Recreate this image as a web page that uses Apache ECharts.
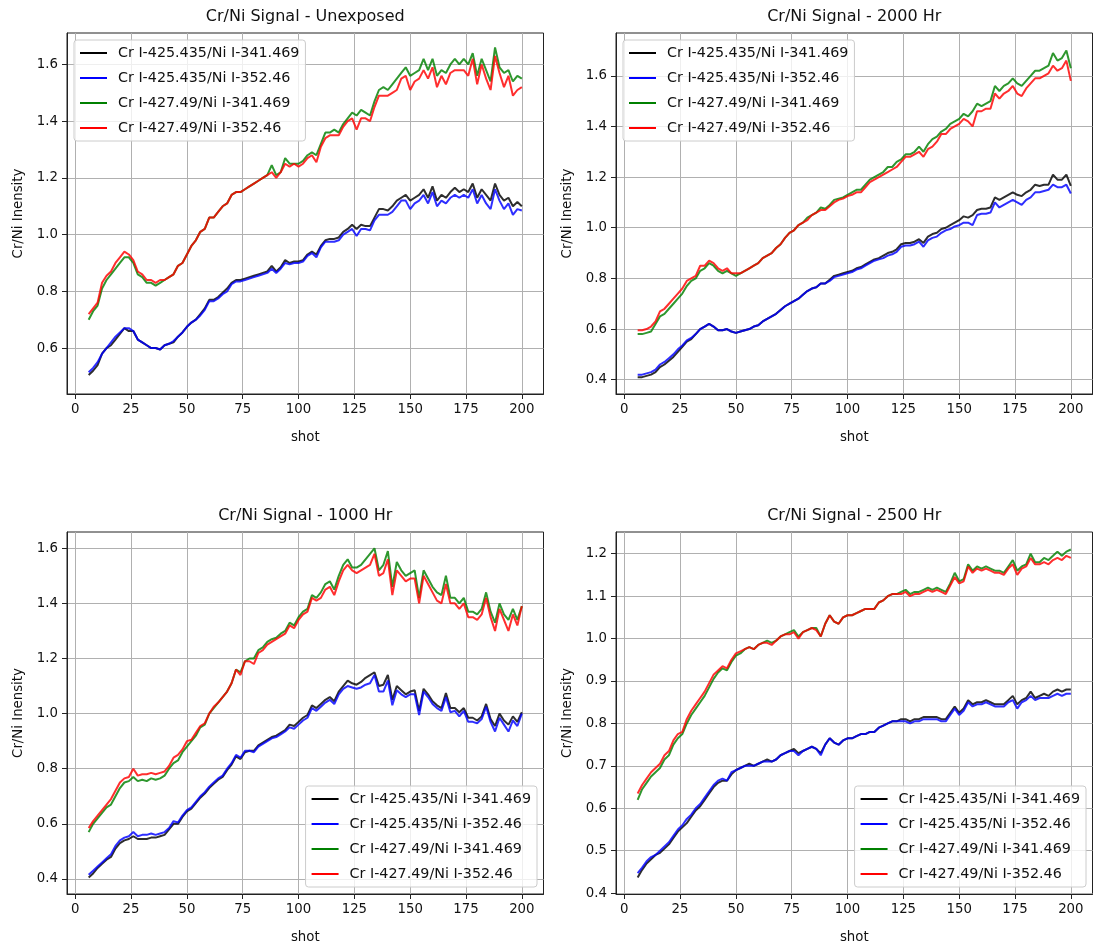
<!DOCTYPE html>
<html>
<head>
<meta charset="utf-8">
<title>Cr/Ni Signal</title>
<script src="https://cdn.jsdelivr.net/npm/echarts@6/dist/echarts.min.js"></script>
<style>
  html, body { margin: 0; padding: 0; background: #fff; }
  #chart { width: 1094px; height: 949px; }
</style>
</head>
<body>
<div id="chart"></div>
<script>
// shot numbers (every second shot, 6..200)
var shots = [
  6, 8, 10, 12, 14, 16, 18, 20, 22, 24,
  26, 28, 30, 32, 34, 36, 38, 40, 42, 44,
  46, 48, 50, 52, 54, 56, 58, 60, 62, 64,
  66, 68, 70, 72, 74, 76, 78, 80, 82, 84,
  86, 88, 90, 92, 94, 96, 98, 100, 102, 104,
  106, 108, 110, 112, 114, 116, 118, 120, 122, 124,
  126, 128, 130, 132, 134, 136, 138, 140, 142, 144,
  146, 148, 150, 152, 154, 156, 158, 160, 162, 164,
  166, 168, 170, 172, 174, 176, 178, 180, 182, 184,
  186, 188, 190, 192, 194, 196, 198, 200
];

var seriesNames = [
  'Cr I-425.435/Ni I-341.469',
  'Cr I-425.435/Ni I-352.46',
  'Cr I-427.49/Ni I-341.469',
  'Cr I-427.49/Ni I-352.46'
];

var xTicks = [0, 25, 50, 75, 100, 125, 150, 175, 200];

// ---- Unexposed ----
var unexposedK = [
  .505, .52, .54, .58, .60, .61, .63, .65, .67, .66,
  .66, .63, .62, .61, .60, .60, .595, .61, .615, .62,
  .64, .655, .675, .69, .70, .72, .74, .77, .77, .78,
  .795, .81, .83, .84, .84, .845, .85, .855, .86, .865,
  .87, .89, .87, .885, .91, .90, .905, .905, .91, .93,
  .94, .93, .96, .98, .985, .985, .99, 1.01, 1.02, 1.035,
  1.02, 1.035, 1.03, 1.03, 1.06, 1.09, 1.09, 1.085, 1.10, 1.12,
  1.13, 1.14, 1.12, 1.13, 1.14, 1.16, 1.13, 1.17, 1.12, 1.14,
  1.13, 1.15, 1.165, 1.15, 1.16, 1.15, 1.18, 1.13, 1.16, 1.14,
  1.12, 1.18, 1.14, 1.12, 1.13, 1.10, 1.115, 1.10
];
var unexposedB = [
  .515, .53, .55, .58, .60, .62, .64, .655, .67, .67,
  .66, .63, .62, .61, .60, .60, .595, .61, .615, .625,
  .64, .655, .675, .69, .70, .715, .735, .765, .765, .775,
  .79, .80, .825, .835, .835, .84, .845, .85, .855, .86,
  .865, .88, .865, .88, .90, .895, .90, .90, .905, .925,
  .935, .92, .955, .975, .975, .975, .98, 1.00, 1.01, 1.02,
  .995, 1.02, 1.02, 1.015, 1.05, 1.07, 1.07, 1.07, 1.08, 1.10,
  1.12, 1.12, 1.09, 1.11, 1.12, 1.14, 1.11, 1.15, 1.10, 1.12,
  1.11, 1.13, 1.14, 1.13, 1.14, 1.13, 1.16, 1.11, 1.14, 1.11,
  1.09, 1.16, 1.12, 1.09, 1.11, 1.07, 1.09, 1.085
];
var unexposedG = [
  .70, .73, .75, .81, .84, .86, .88, .90, .92, .92,
  .90, .86, .85, .83, .83, .82, .83, .84, .85, .86,
  .89, .90, .93, .96, .98, 1.01, 1.02, 1.06, 1.06, 1.08,
  1.10, 1.11, 1.14, 1.15, 1.15, 1.16, 1.17, 1.18, 1.19, 1.20,
  1.21, 1.245, 1.21, 1.22, 1.27, 1.25, 1.25, 1.25, 1.26, 1.28,
  1.29, 1.28, 1.32, 1.36, 1.36, 1.37, 1.36, 1.39, 1.41, 1.43,
  1.42, 1.44, 1.43, 1.42, 1.47, 1.51, 1.52, 1.51, 1.53, 1.55,
  1.57, 1.59, 1.56, 1.57, 1.58, 1.62, 1.58, 1.62, 1.56, 1.58,
  1.57, 1.60, 1.62, 1.60, 1.62, 1.60, 1.64, 1.56, 1.62, 1.58,
  1.54, 1.66, 1.59, 1.57, 1.58, 1.54, 1.56, 1.55
];
var unexposedR = [
  .72, .74, .76, .83, .855, .87, .90, .92, .94, .93,
  .91, .87, .86, .84, .84, .83, .84, .84, .85, .86,
  .89, .90, .93, .96, .98, 1.01, 1.02, 1.06, 1.06, 1.08,
  1.10, 1.11, 1.14, 1.15, 1.15, 1.16, 1.17, 1.18, 1.19, 1.20,
  1.21, 1.22, 1.20, 1.22, 1.25, 1.24, 1.25, 1.24, 1.25, 1.27,
  1.28, 1.255, 1.31, 1.34, 1.35, 1.35, 1.35, 1.38, 1.40, 1.41,
  1.37, 1.41, 1.41, 1.40, 1.45, 1.49, 1.49, 1.49, 1.50, 1.51,
  1.55, 1.56, 1.51, 1.54, 1.55, 1.58, 1.55, 1.59, 1.52, 1.56,
  1.53, 1.57, 1.58, 1.58, 1.58, 1.56, 1.62, 1.53, 1.60, 1.55,
  1.51, 1.63, 1.57, 1.52, 1.56, 1.49, 1.51, 1.52
];
var unexposedYTicks = [0.6, 0.8, 1.0, 1.2, 1.4, 1.6];

// ---- 2000 Hr ----
var hr2000K = [
  .41, .41, .415, .42, .43, .45, .46, .475, .49, .51,
  .53, .55, .56, .58, .60, .61, .62, .61, .595, .595,
  .60, .59, .585, .59, .595, .60, .61, .615, .63, .64,
  .65, .66, .675, .69, .70, .71, .72, .735, .75, .76,
  .765, .78, .78, .795, .81, .815, .82, .825, .83, .84,
  .845, .855, .865, .875, .88, .89, .90, .905, .915, .935,
  .94, .94, .945, .955, .94, .965, .975, .98, .995, 1.00,
  1.01, 1.02, 1.03, 1.045, 1.04, 1.05, 1.07, 1.075, 1.075, 1.08,
  1.12, 1.11, 1.12, 1.13, 1.14, 1.13, 1.125, 1.14, 1.15, 1.17,
  1.165, 1.17, 1.17, 1.21, 1.19, 1.19, 1.21, 1.165
];
var hr2000B = [
  .42, .42, .425, .43, .44, .46, .47, .485, .50, .52,
  .535, .555, .565, .58, .60, .61, .62, .61, .595, .595,
  .60, .59, .585, .59, .595, .60, .61, .615, .63, .64,
  .65, .66, .675, .69, .70, .71, .72, .735, .75, .76,
  .765, .78, .78, .79, .805, .81, .815, .82, .825, .835,
  .84, .85, .86, .87, .875, .88, .89, .895, .905, .925,
  .93, .93, .935, .945, .925, .95, .96, .965, .98, .99,
  .995, 1.005, 1.01, 1.02, 1.02, 1.01, 1.05, 1.055, 1.055, 1.06,
  1.10, 1.08, 1.09, 1.10, 1.11, 1.10, 1.09, 1.11, 1.12, 1.14,
  1.14, 1.145, 1.15, 1.17, 1.16, 1.16, 1.17, 1.135
];
var hr2000G = [
  .58, .58, .585, .59, .62, .65, .66, .68, .70, .72,
  .74, .77, .79, .80, .83, .84, .86, .85, .83, .82,
  .83, .82, .81, .82, .83, .84, .85, .86, .88, .89,
  .90, .92, .935, .96, .98, .99, 1.01, 1.02, 1.04, 1.05,
  1.06, 1.08, 1.075, 1.09, 1.11, 1.115, 1.12, 1.13, 1.14, 1.15,
  1.15, 1.17, 1.19, 1.20, 1.21, 1.22, 1.24, 1.24, 1.26, 1.27,
  1.29, 1.29, 1.30, 1.32, 1.30, 1.33, 1.35, 1.36, 1.38, 1.39,
  1.41, 1.42, 1.43, 1.45, 1.44, 1.46, 1.49, 1.48, 1.49, 1.50,
  1.56, 1.54, 1.56, 1.57, 1.59, 1.57, 1.56, 1.58, 1.60, 1.62,
  1.62, 1.63, 1.64, 1.69, 1.66, 1.67, 1.70, 1.63
];
var hr2000R = [
  .595, .595, .60, .61, .63, .67, .68, .70, .72, .74,
  .76, .79, .80, .81, .85, .85, .87, .86, .84, .83,
  .84, .82, .82, .82, .83, .84, .85, .86, .88, .89,
  .90, .92, .935, .96, .98, .99, 1.01, 1.02, 1.03, 1.05,
  1.06, 1.07, 1.07, 1.085, 1.10, 1.11, 1.115, 1.125, 1.13, 1.14,
  1.14, 1.16, 1.18, 1.19, 1.20, 1.21, 1.22, 1.23, 1.24, 1.26,
  1.28, 1.28, 1.29, 1.30, 1.28, 1.31, 1.32, 1.34, 1.37, 1.37,
  1.39, 1.40, 1.41, 1.43, 1.42, 1.40, 1.46, 1.46, 1.47, 1.47,
  1.53, 1.51, 1.53, 1.54, 1.56, 1.53, 1.52, 1.55, 1.57, 1.59,
  1.59, 1.60, 1.61, 1.64, 1.62, 1.63, 1.66, 1.58
];
var hr2000YTicks = [0.4, 0.6, 0.8, 1.0, 1.2, 1.4, 1.6];

// ---- 1000 Hr ----
var hr1000K = [
  .405, .42, .44, .455, .47, .48, .51, .53, .54, .545,
  .555, .545, .545, .545, .55, .55, .555, .56, .58, .60,
  .60, .625, .645, .655, .675, .695, .71, .73, .745, .76,
  .77, .795, .815, .845, .835, .86, .865, .865, .885, .895,
  .905, .915, .92, .93, .94, .96, .955, .97, .985, .995,
  1.03, 1.02, 1.035, 1.05, 1.06, 1.045, 1.08, 1.10, 1.12, 1.11,
  1.105, 1.115, 1.13, 1.14, 1.15, 1.10, 1.105, 1.14, 1.05, 1.10,
  1.085, 1.07, 1.08, 1.085, 1.01, 1.09, 1.07, 1.045, 1.03, 1.02,
  1.075, 1.02, 1.02, 1.005, 1.02, .985, .985, .975, .99, 1.035,
  .98, .955, 1.00, .975, .96, .99, .97, 1.005
];
var hr1000B = [
  .415, .43, .445, .46, .475, .49, .52, .54, .55, .555,
  .57, .555, .56, .56, .565, .56, .565, .57, .585, .61,
  .605, .63, .65, .66, .68, .70, .715, .735, .75, .765,
  .775, .80, .82, .85, .84, .865, .865, .86, .88, .89,
  .90, .91, .915, .925, .935, .95, .945, .96, .975, .985,
  1.02, 1.01, 1.025, 1.04, 1.05, 1.035, 1.07, 1.09, 1.10, 1.095,
  1.09, 1.095, 1.105, 1.11, 1.14, 1.08, 1.08, 1.12, 1.03, 1.085,
  1.07, 1.06, 1.07, 1.07, .995, 1.08, 1.06, 1.035, 1.02, 1.01,
  1.06, 1.005, 1.01, .99, 1.01, .97, .97, .965, .98, 1.025,
  .97, .935, .985, .96, .935, .975, .955, 1.00
];
var hr1000G = [
  .57, .60, .62, .64, .66, .67, .70, .73, .75, .755,
  .77, .755, .76, .755, .765, .76, .765, .775, .80, .82,
  .83, .86, .88, .90, .92, .95, .96, 1.00, 1.02, 1.04,
  1.06, 1.08, 1.11, 1.16, 1.15, 1.19, 1.20, 1.20, 1.23, 1.24,
  1.26, 1.27, 1.275, 1.29, 1.30, 1.33, 1.32, 1.35, 1.37, 1.38,
  1.43, 1.42, 1.44, 1.47, 1.48, 1.45, 1.50, 1.54, 1.56, 1.53,
  1.53, 1.54, 1.56, 1.58, 1.60, 1.52, 1.54, 1.59, 1.46, 1.55,
  1.52, 1.50, 1.51, 1.52, 1.42, 1.52, 1.49, 1.46, 1.44, 1.43,
  1.50, 1.42, 1.42, 1.40, 1.42, 1.37, 1.37, 1.36, 1.38, 1.44,
  1.37, 1.33, 1.40, 1.36, 1.34, 1.38, 1.34, 1.39
];
var hr1000R = [
  .585, .61, .63, .65, .67, .69, .72, .75, .765, .77,
  .80, .775, .78, .78, .785, .78, .785, .79, .81, .84,
  .85, .87, .90, .905, .93, .955, .965, 1.00, 1.025, 1.04,
  1.06, 1.08, 1.11, 1.16, 1.14, 1.19, 1.19, 1.18, 1.22, 1.23,
  1.25, 1.26, 1.27, 1.28, 1.29, 1.32, 1.31, 1.34, 1.36, 1.37,
  1.42, 1.41, 1.42, 1.45, 1.46, 1.43, 1.48, 1.52, 1.54, 1.52,
  1.51, 1.52, 1.53, 1.54, 1.58, 1.50, 1.51, 1.56, 1.43, 1.52,
  1.50, 1.48, 1.49, 1.49, 1.40, 1.50, 1.47, 1.44, 1.41, 1.40,
  1.47, 1.40, 1.40, 1.38, 1.40, 1.35, 1.35, 1.34, 1.36, 1.42,
  1.35, 1.30, 1.38, 1.34, 1.30, 1.36, 1.32, 1.39
];
var hr1000YTicks = [0.4, 0.6, 0.8, 1.0, 1.2, 1.4, 1.6];

// ---- 2500 Hr ----
var hr2500K = [
  .437, .455, .47, .48, .49, .495, .505, .515, .53, .545,
  .555, .565, .58, .595, .605, .62, .635, .65, .66, .665,
  .665, .68, .69, .695, .70, .705, .70, .705, .71, .715,
  .71, .715, .725, .73, .735, .74, .73, .735, .74, .745,
  .74, .73, .75, .765, .755, .75, .76, .765, .765, .77,
  .775, .775, .78, .78, .79, .795, .80, .805, .805, .81,
  .81, .805, .81, .81, .815, .815, .815, .815, .81, .81,
  .825, .84, .825, .835, .855, .845, .85, .85, .855, .85,
  .845, .845, .845, .855, .865, .845, .855, .86, .875, .86,
  .865, .87, .865, .875, .88, .875, .88, .88
];
var hr2500B = [
  .447, .46, .475, .485, .49, .50, .51, .52, .535, .55,
  .56, .575, .585, .60, .61, .625, .64, .655, .665, .67,
  .665, .685, .69, .695, .70, .70, .70, .705, .71, .71,
  .71, .715, .725, .73, .735, .735, .725, .735, .74, .745,
  .74, .725, .75, .765, .755, .75, .76, .765, .765, .77,
  .775, .775, .78, .78, .79, .795, .80, .805, .805, .805,
  .805, .80, .805, .805, .81, .81, .81, .81, .805, .805,
  .82, .835, .82, .83, .85, .84, .845, .845, .85, .845,
  .84, .84, .84, .85, .855, .835, .85, .855, .865, .855,
  .86, .86, .86, .865, .87, .865, .87, .87
];
var hr2500G = [
  .62, .645, .66, .675, .685, .695, .715, .725, .75, .765,
  .775, .80, .82, .835, .85, .865, .885, .905, .92, .93,
  .925, .945, .96, .965, .975, .98, .975, .985, .99, .995,
  .99, .995, 1.005, 1.01, 1.015, 1.02, 1.005, 1.015, 1.02, 1.025,
  1.025, 1.005, 1.035, 1.055, 1.04, 1.035, 1.05, 1.055, 1.055, 1.06,
  1.065, 1.07, 1.07, 1.07, 1.085, 1.09, 1.10, 1.105, 1.105, 1.11,
  1.115, 1.105, 1.11, 1.11, 1.115, 1.12, 1.115, 1.12, 1.115, 1.11,
  1.13, 1.155, 1.135, 1.14, 1.175, 1.16, 1.17, 1.165, 1.17, 1.165,
  1.16, 1.16, 1.155, 1.17, 1.185, 1.16, 1.17, 1.175, 1.20, 1.18,
  1.18, 1.19, 1.185, 1.195, 1.205, 1.195, 1.205, 1.21
];
var hr2500R = [
  .635, .655, .67, .685, .695, .705, .725, .735, .76, .775,
  .78, .81, .83, .845, .86, .875, .895, .915, .925, .935,
  .93, .95, .965, .97, .975, .98, .975, .985, .99, .99,
  .985, .995, 1.005, 1.01, 1.01, 1.015, 1.00, 1.015, 1.02, 1.025,
  1.02, 1.005, 1.035, 1.055, 1.04, 1.035, 1.05, 1.055, 1.055, 1.06,
  1.065, 1.07, 1.07, 1.07, 1.085, 1.09, 1.10, 1.105, 1.105, 1.105,
  1.11, 1.10, 1.105, 1.105, 1.11, 1.115, 1.11, 1.115, 1.11, 1.105,
  1.125, 1.145, 1.13, 1.135, 1.17, 1.155, 1.165, 1.16, 1.165, 1.16,
  1.155, 1.155, 1.15, 1.165, 1.175, 1.15, 1.165, 1.17, 1.19, 1.175,
  1.175, 1.18, 1.175, 1.185, 1.19, 1.185, 1.195, 1.19
];
var hr2500YTicks = [0.4, 0.5, 0.6, 0.7, 0.8, 0.9, 1.0, 1.1, 1.2];

(function () {
    var FONT = 'DejaVu Sans';
    var TEXT = '#111';
    var colors = ['#000000', '#0000ff', '#008000', '#ff0000'];

    // one entry per subplot: where it sits and how its y axis is framed
    var panels = [
        { title: 'Cr/Ni Signal - Unexposed', lines: [unexposedK, unexposedB, unexposedG, unexposedR],
          yTicks: unexposedYTicks, yMin: 0.438, yMax: 1.711, step: 0.2,
          grid: { left: 67, top: 33, width: 476.5, height: 361 },
          legend: { left: 74, top: 40 } },
        { title: 'Cr/Ni Signal - 2000 Hr', lines: [hr2000K, hr2000B, hr2000G, hr2000R],
          yTicks: hr2000YTicks, yMin: 0.3435, yMax: 1.769, step: 0.2,
          grid: { left: 616, top: 33, width: 476.5, height: 361 },
          legend: { left: 623, top: 40 } },
        { title: 'Cr/Ni Signal - 1000 Hr', lines: [hr1000K, hr1000B, hr1000G, hr1000R],
          yTicks: hr1000YTicks, yMin: 0.3454, yMax: 1.659, step: 0.2,
          grid: { left: 67, top: 532, width: 476.5, height: 362 },
          legend: { right: 557, bottom: 62 } },
        { title: 'Cr/Ni Signal - 2500 Hr', lines: [hr2500K, hr2500B, hr2500G, hr2500R],
          yTicks: hr2500YTicks, yMin: 0.398, yMax: 1.2512, step: 0.1,
          grid: { left: 616, top: 532, width: 476.5, height: 362 },
          legend: { right: 8, bottom: 62 } }
    ];

    function onStep(v, step) {
        var q = v / step;
        return Math.abs(q - Math.round(q)) < 1e-6;
    }

    var grids = [], xAxes = [], yAxes = [], series = [], titles = [], legends = [];

    panels.forEach(function (p, i) {
        grids.push(Object.assign({
            show: true, borderColor: '#222', borderWidth: 1, backgroundColor: 'transparent'
        }, p.grid));

        titles.push({
            text: p.title,
            left: p.grid.left + p.grid.width / 2,
            top: p.grid.top - 26,
            textAlign: 'center',
            padding: 0,
            textStyle: { fontFamily: FONT, fontSize: 16, fontWeight: 'normal', color: TEXT, lineHeight: 19 }
        });

        legends.push(Object.assign({
            data: seriesNames,
            orient: 'vertical',
            icon: 'rect',
            itemWidth: 27,
            itemHeight: 2,
            itemGap: 9,
            padding: [5, 6, 5, 6],
            backgroundColor: 'rgba(255,255,255,0.8)',
            borderColor: '#cccccc',
            borderWidth: 1,
            borderRadius: 3,
            selectedMode: false,
            textStyle: { fontFamily: FONT, fontSize: 14.3, color: TEXT, lineHeight: 16, padding: [0, 0, 0, 6] }
        }, p.legend));

        xAxes.push({
            type: 'value',
            gridIndex: i,
            min: -3.7,
            max: 209.7,
            minInterval: 25,
            maxInterval: 25,
            name: 'shot',
            nameLocation: 'middle',
            nameGap: 37,
            nameTextStyle: { fontFamily: FONT, fontSize: 13.3, color: TEXT },
            axisLine: { show: true, onZero: false, lineStyle: { color: '#222', width: 1 } },
            axisTick: { show: true, inside: false, length: 5, customValues: xTicks,
                        lineStyle: { color: '#222', width: 1 } },
            axisLabel: { show: true, margin: 9, customValues: xTicks,
                         fontFamily: FONT, fontSize: 13.3, color: TEXT,
                         formatter: function (v) { return onStep(v, 25) ? String(Math.round(v)) : ''; } },
            splitLine: { show: true, lineStyle: { color: '#b0b0b0', width: 1 } }
        });

        yAxes.push({
            type: 'value',
            gridIndex: i,
            min: p.yMin,
            max: p.yMax,
            minInterval: p.step,
            maxInterval: p.step,
            name: 'Cr/Ni Inensity',
            nameLocation: 'middle',
            nameGap: 42,
            nameTextStyle: { fontFamily: FONT, fontSize: 13.3, color: TEXT },
            axisLine: { show: true, onZero: false, lineStyle: { color: '#222', width: 1 } },
            axisTick: { show: true, inside: false, length: 5, customValues: p.yTicks,
                        lineStyle: { color: '#222', width: 1 } },
            axisLabel: { show: true, margin: 9, customValues: p.yTicks,
                         fontFamily: FONT, fontSize: 13.3, color: TEXT,
                         formatter: function (v) { return onStep(v, p.step) ? v.toFixed(1) : ''; } },
            splitLine: { show: true, lineStyle: { color: '#b0b0b0', width: 1 } }
        });

        p.lines.forEach(function (vals, k) {
            series.push({
                type: 'line',
                name: seriesNames[k],
                xAxisIndex: i,
                yAxisIndex: i,
                data: shots.map(function (s, j) { return [s, vals[j]]; }),
                symbol: 'none',
                showSymbol: false,
                smooth: false,
                color: colors[k],
                lineStyle: { color: colors[k], width: 2, opacity: 0.82 },
                itemStyle: { color: colors[k] },
                z: 2 + k,
                animation: false
            });
        });
    });

    var chart = echarts.init(document.getElementById('chart'), null, { renderer: 'canvas' });
    chart.setOption({
        backgroundColor: '#ffffff',
        animation: false,
        textStyle: { fontFamily: FONT },
        title: titles,
        legend: legends,
        grid: grids,
        xAxis: xAxes,
        yAxis: yAxes,
        series: series
    });
})();
</script>
</body>
</html>
